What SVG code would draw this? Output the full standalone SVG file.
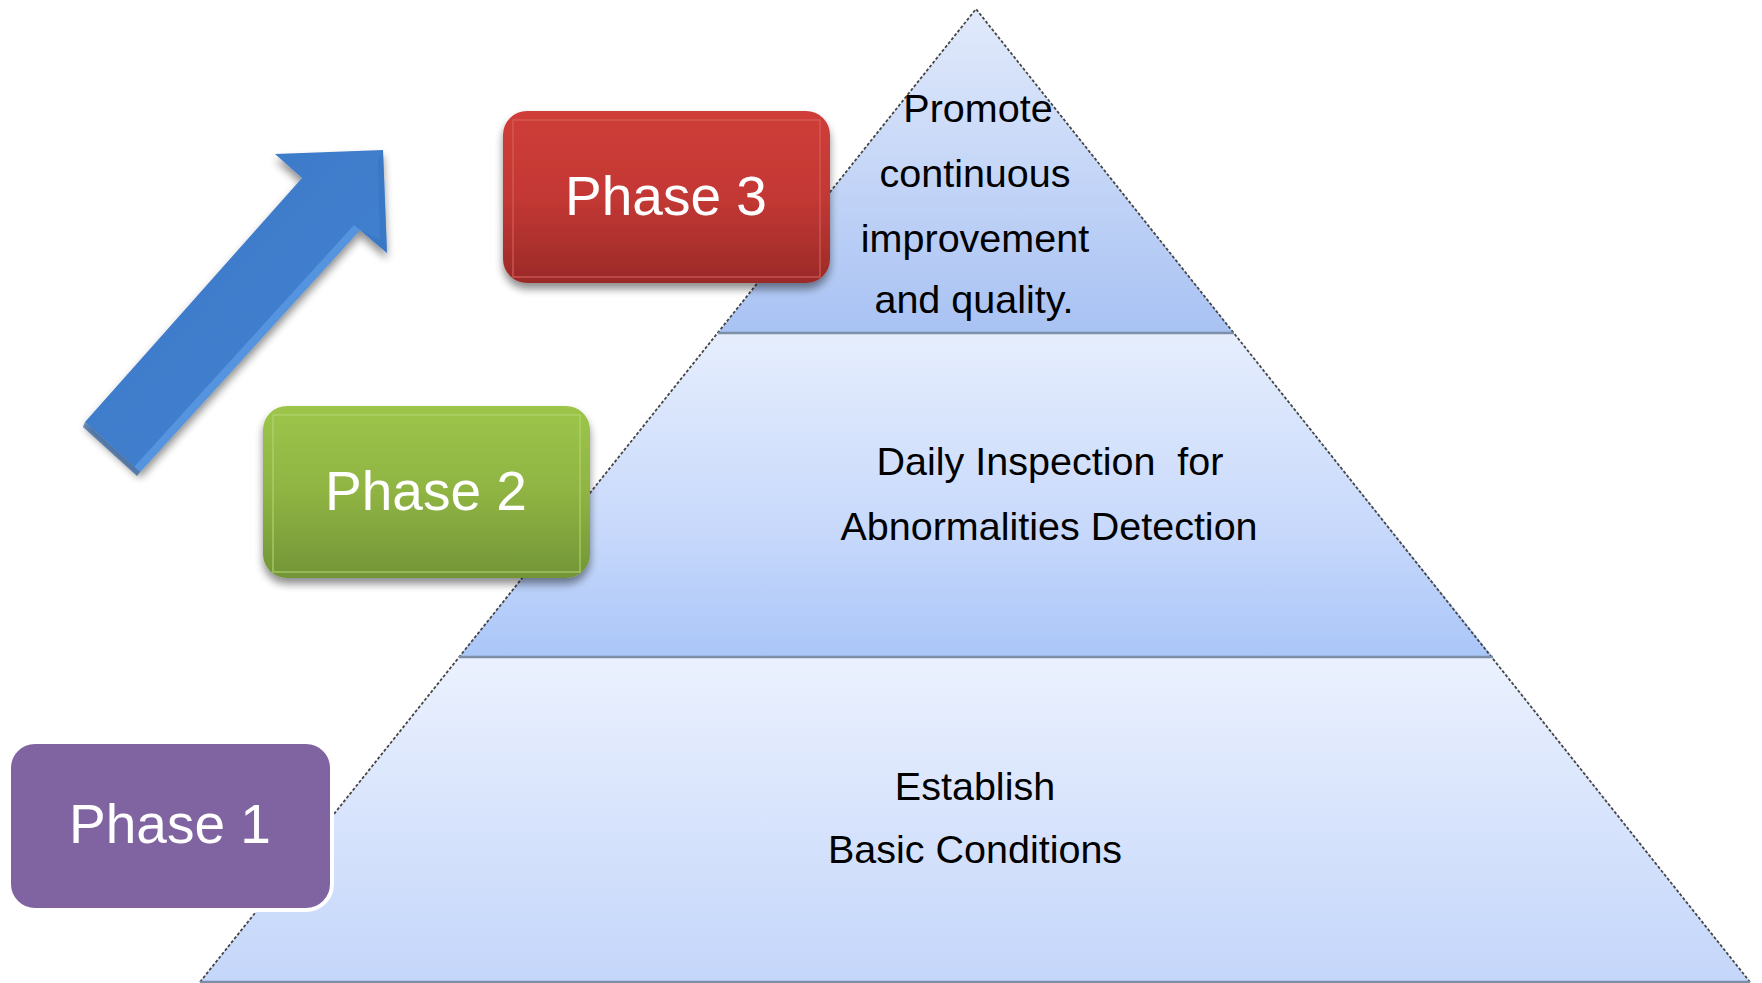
<svg xmlns="http://www.w3.org/2000/svg" width="1762" height="983" viewBox="0 0 1762 983">
<defs>
<style>
.pt{font-family:"Liberation Sans",Arial,sans-serif;font-size:39.5px;fill:#000;text-anchor:middle}
.ph{font-family:"Liberation Sans",Arial,sans-serif;font-size:55px;fill:#fff;text-anchor:middle}
.edge{fill:none;stroke:#454545;stroke-width:1.8;stroke-dasharray:3 2}
.div{stroke:#7d8ea8;stroke-width:2.5}
</style>
<linearGradient id="gTop" x1="0" y1="0" x2="0" y2="1"><stop offset="0" stop-color="#e2eafb"/><stop offset="1" stop-color="#a8c2f3"/></linearGradient>
<linearGradient id="gMid" x1="0" y1="0" x2="0" y2="1"><stop offset="0" stop-color="#e6eefd"/><stop offset="0.6" stop-color="#c8d9fb"/><stop offset="1" stop-color="#aac6f8"/></linearGradient>
<linearGradient id="gBot" x1="0" y1="0" x2="0" y2="1"><stop offset="0" stop-color="#ebf1fe"/><stop offset="1" stop-color="#c4d6fa"/></linearGradient>
<linearGradient id="gRed" x1="0" y1="0" x2="0" y2="1"><stop offset="0" stop-color="#cf3d39"/><stop offset="0.5" stop-color="#c33834"/><stop offset="1" stop-color="#9b2a28"/></linearGradient>
<linearGradient id="gGreen" x1="0" y1="0" x2="0" y2="1"><stop offset="0" stop-color="#9dc54a"/><stop offset="0.5" stop-color="#8fb443"/><stop offset="1" stop-color="#739537"/></linearGradient>
<linearGradient id="gArrow" x1="0" y1="0" x2="1" y2="1"><stop offset="0" stop-color="#3a76c4"/><stop offset="1" stop-color="#4585d4"/></linearGradient>
<filter id="sh" x="-10%" y="-10%" width="120%" height="130%"><feGaussianBlur in="SourceAlpha" stdDeviation="4"/><feOffset dx="0" dy="6" result="b"/><feComponentTransfer><feFuncA type="linear" slope="0.45"/></feComponentTransfer><feMerge><feMergeNode/><feMergeNode in="SourceGraphic"/></feMerge></filter>
</defs>
<rect width="1762" height="983" fill="#fff"/>

<g id="pyramid">
<polygon points="459,657 1493,657 1750,982 200,982" fill="url(#gBot)"/>
<polygon points="718,333 1234,333 1493,657 459,657" fill="url(#gMid)"/>
<polygon points="976,9 1234,333 718,333" fill="url(#gTop)"/>
<polyline class="edge" points="200,982 976,9 1750,982"/>
<line class="div" x1="718" y1="333" x2="1234" y2="333"/>
<line class="div" x1="459" y1="657" x2="1493" y2="657"/>
<line x1="200" y1="982" x2="1750" y2="982" stroke="#7d8ea8" stroke-width="2.5"/>
</g>

<g id="level3-text">
<text class="pt" x="978" y="122">Promote</text>
<text class="pt" x="975" y="187">continuous</text>
<text class="pt" x="975" y="252">improvement</text>
<text class="pt" x="974" y="313">and quality.</text>
</g>
<g id="level2-text">
<text class="pt" x="1050" y="475" xml:space="preserve">Daily Inspection  for</text>
<text class="pt" x="1049" y="540">Abnormalities Detection</text>
</g>
<g id="level1-text">
<text class="pt" x="975" y="800">Establish</text>
<text class="pt" x="975" y="863">Basic Conditions</text>
</g>

<g id="arrow">
<polygon points="383,150 275,154 302,178 85,422 140,472 360,230 387,253" fill="url(#gArrow)" filter="url(#sh)"/>
<polygon points="360,230 140,472 134,467 354,225" fill="#5e9ce6" opacity="0.7"/>
<polygon points="85,422 140,472 137,476 83,427" fill="#2c5f9f" opacity="0.7"/>
<polygon points="360,230 387,253 383,150 378,160 380,240" fill="#3470bb" opacity="0.5"/>
</g>

<g id="phase3" filter="url(#sh)">
<rect x="503" y="111" width="327" height="172" rx="24" fill="url(#gRed)"/>
<rect x="513" y="120" width="307" height="157" fill="none" stroke="#d9625d" stroke-width="1.5" opacity="0.7"/>
<text class="ph" x="666" y="215">Phase 3</text>
</g>

<g id="phase2" filter="url(#sh)">
<rect x="263" y="406" width="327" height="172" rx="24" fill="url(#gGreen)"/>
<rect x="273" y="415" width="307" height="157" fill="none" stroke="#b5d672" stroke-width="1.5" opacity="0.7"/>
<text class="ph" x="426" y="510">Phase 2</text>
</g>

<g id="phase1">
<rect x="9" y="742" width="323" height="168" rx="26" fill="#8064a2" stroke="#fff" stroke-width="4"/>
<text class="ph" x="170" y="843">Phase 1</text>
</g>
</svg>
